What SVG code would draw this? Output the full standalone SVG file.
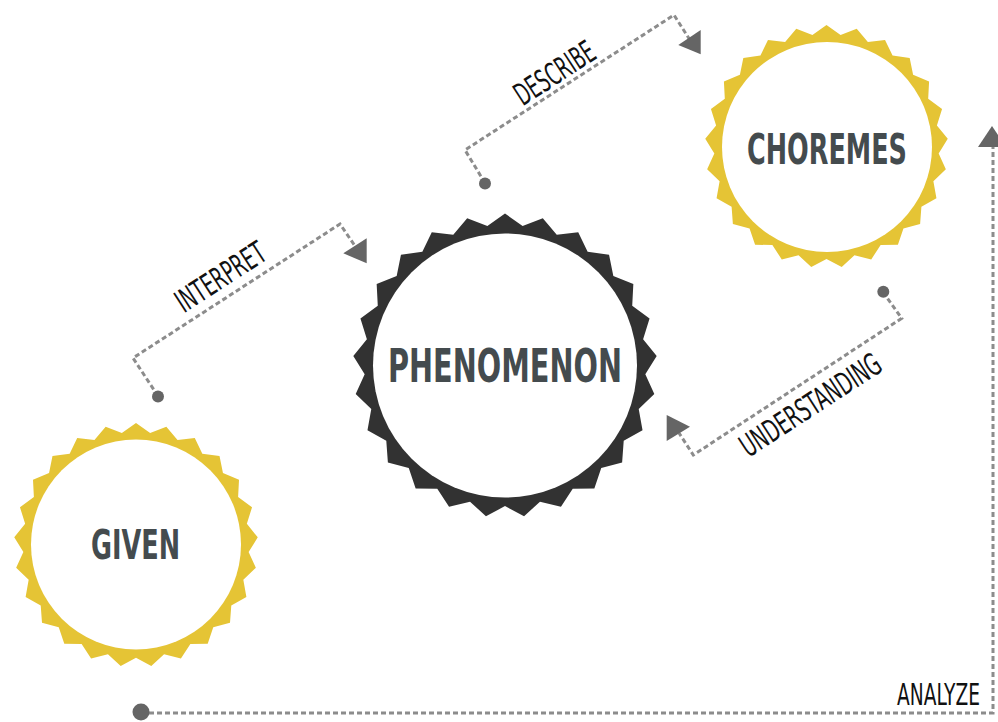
<svg xmlns="http://www.w3.org/2000/svg" xmlns:xlink="http://www.w3.org/1999/xlink" width="998" height="722" viewBox="0 0 998 722">
<style>
.title{font-family:"Liberation Sans Narrow","DejaVu Sans Condensed","Liberation Sans",sans-serif;font-weight:bold;fill:#444b4e;text-anchor:middle}
.lbl{font-family:"Liberation Sans Narrow","DejaVu Sans Condensed","Liberation Sans",sans-serif;font-weight:normal;fill:#111;font-size:31px;text-anchor:middle}
.conn{fill:none;stroke:#8c8c8c;stroke-width:3;stroke-dasharray:5 3}
.dot{fill:#656565}
.head{fill:#656565}
.yellow{fill:#e5c435}
.dark{fill:#323232}
.inner{fill:#fff}
</style>
<defs>
<polygon id="star" points="0,-1 0.11593,-0.9177 0.24869,-0.96858 0.34051,-0.86005 0.48175,-0.87631 0.54371,-0.74834 0.68455,-0.72897 0.71272,-0.58961 0.84433,-0.53583 0.83697,-0.39385 0.95106,-0.30902 0.90862,-0.17333 0.99803,-0.06279 0.92318,0.05808 0.98229,0.18738 0.87973,0.28584 0.90483,0.42578 0.78101,0.49564 0.77051,0.63742 0.63321,0.6743 0.58779,0.80902 0.44562,0.81059 0.36812,0.92978 0.23004,0.89594 0.12533,0.99211 0,0.925 -0.12533,0.99211 -0.23004,0.89594 -0.36812,0.92978 -0.44562,0.81059 -0.58779,0.80902 -0.63321,0.6743 -0.77051,0.63742 -0.78101,0.49564 -0.90483,0.42578 -0.87973,0.28584 -0.98229,0.18738 -0.92318,0.05808 -0.99803,-0.06279 -0.90862,-0.17333 -0.95106,-0.30902 -0.83697,-0.39385 -0.84433,-0.53583 -0.71272,-0.58961 -0.68455,-0.72897 -0.54371,-0.74834 -0.48175,-0.87631 -0.34051,-0.86005 -0.24869,-0.96858 -0.11593,-0.9177"/>
</defs>
<rect width="998" height="722" fill="#fff"/>
<g id="connectors">
  <g id="c-interpret">
    <path class="conn" d="M158,396 L133,358 L340,224 L355,246"/>
    <circle class="dot" cx="158" cy="396.5" r="6"/>
    <polygon class="head" points="343.3,253.3 366.7,238.3 366.7,263.3"/>
    <text class="lbl" transform="translate(226.4,286) rotate(-33)" textLength="101" lengthAdjust="spacingAndGlyphs">INTERPRET</text>
  </g>
  <g id="c-describe">
    <path class="conn" d="M485,183 L465,150 L674,15 L690,40"/>
    <circle class="dot" cx="485" cy="183.5" r="6"/>
    <polygon class="head" points="678.3,45 700.7,30 700.7,54.3"/>
    <text class="lbl" transform="translate(560.4,82) rotate(-33)" textLength="90" lengthAdjust="spacingAndGlyphs">DESCRIBE</text>
  </g>
  <g id="c-understanding">
    <path class="conn" d="M883,292 L901.7,318.3 L693.3,455 L679,433"/>
    <circle class="dot" cx="883.3" cy="291.7" r="6"/>
    <polygon class="head" points="666.7,415 690,426.7 666.7,441"/>
    <text class="lbl" transform="translate(816.4,414) rotate(-33)" textLength="162" lengthAdjust="spacingAndGlyphs">UNDERSTANDING</text>
  </g>
  <g id="c-analyze">
    <path class="conn" d="M141,713 L993,713 L993,147"/>
    <circle class="dot" cx="141" cy="712" r="8.5"/>
    <polygon class="head" points="992,126 978,147 1006,147"/>
    <text class="lbl" x="980" y="705" style="text-anchor:end;font-size:31px" textLength="83" lengthAdjust="spacingAndGlyphs">ANALYZE</text>
  </g>
</g>
<g id="node-given">
  <use xlink:href="#star" class="yellow" transform="translate(136,545) scale(122)"/>
  <circle class="inner" cx="136" cy="544.5" r="105"/>
  <text class="title" x="135.5" y="559" font-size="41" textLength="89" lengthAdjust="spacingAndGlyphs">GIVEN</text>
</g>
<g id="node-phenomenon">
  <use xlink:href="#star" class="dark" transform="translate(505,365.5) scale(152)"/>
  <circle class="inner" cx="505" cy="365.5" r="132"/>
  <text class="title" x="505" y="382" font-size="47" textLength="234" lengthAdjust="spacingAndGlyphs">PHENOMENON</text>
</g>
<g id="node-choremes">
  <use xlink:href="#star" class="yellow" transform="translate(826.5,146.5) scale(121.5)"/>
  <circle class="inner" cx="827" cy="147" r="105"/>
  <text class="title" x="827" y="164" font-size="43" textLength="160" lengthAdjust="spacingAndGlyphs">CHOREMES</text>
</g>
</svg>
